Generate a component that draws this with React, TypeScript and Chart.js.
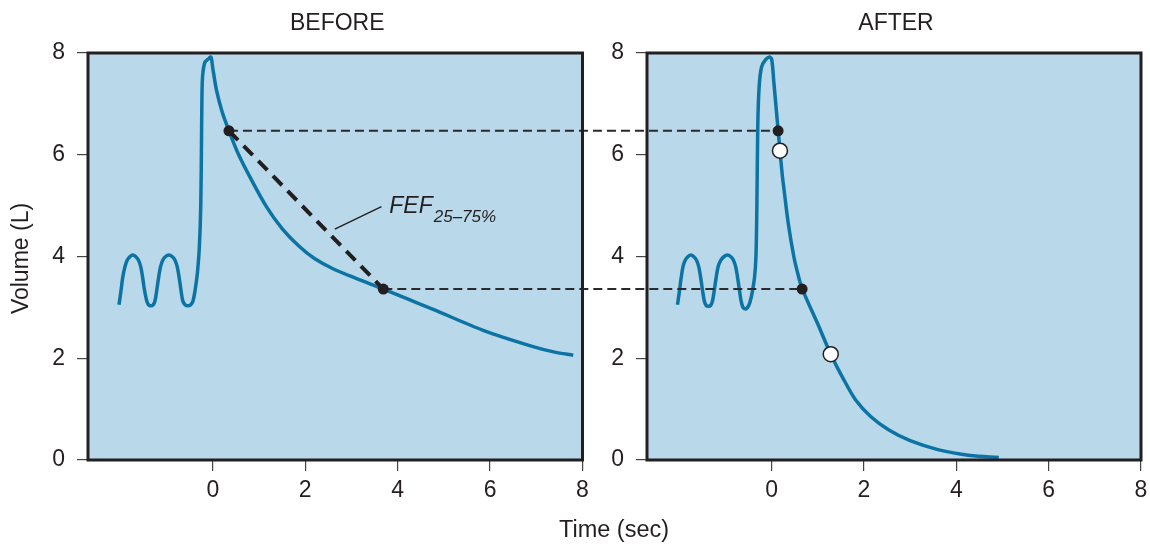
import React, { useEffect, useRef } from "react";
import { Chart, registerables } from "chart.js";
Chart.register(...registerables);

const FONT = '"Liberation Sans", Arial, Helvetica, sans-serif';
const INK = "#231f20";
const CURVE = "#0b74a5";
const PANEL = "#b9d8e9";

const xTicks = [0, 2, 4, 6, 8];
const yTicks = [0, 2, 4, 6, 8];
const xMin = -2.7;
const xMax = 8;
const yMin = 0;
const yMax = 8;

const panelTitles = ["BEFORE", "AFTER"];
const yTitle = "Volume (L)";
const xTitle = "Time (sec)";

// BEFORE volume-time curve
const beforeT = [
  -2.03, -1.99, -1.95, -1.9, -1.85, -1.79, -1.73, -1.67, -1.61, -1.56, -1.52, -1.48, -1.43, -1.39,
  -1.34, -1.29, -1.25, -1.21, -1.17, -1.13, -1.08, -1.02, -0.95, -0.88, -0.82, -0.77, -0.73, -0.69,
  -0.65, -0.6, -0.54, -0.48, -0.43, -0.38, -0.33, -0.29, -0.26, -0.245, -0.235, -0.22, -0.17, -0.1,
  -0.04, 0.0, 0.08, 0.2, 0.35, 0.55, 0.8, 1.16, 1.5, 1.88, 2.2, 2.6, 3.1, 3.69, 4.2, 4.77, 5.85, 6.93,
  7.4, 7.8,
];
const beforeV = [
  3.05, 3.3, 3.58, 3.8, 3.93, 4.0, 4.03, 4.0, 3.93, 3.8, 3.6, 3.35, 3.13, 3.05,
  3.03, 3.05, 3.13, 3.35, 3.6, 3.8, 3.93, 4.0, 4.03, 4.0, 3.93, 3.8, 3.6, 3.35,
  3.13, 3.05, 3.03, 3.05, 3.12, 3.35, 3.7, 4.2, 5.0, 6.2, 7.1, 7.55, 7.82, 7.88,
  7.92, 7.7, 7.27, 6.85, 6.47, 6.02, 5.57, 4.98, 4.55, 4.19, 3.96, 3.76, 3.57, 3.36, 3.17, 2.96, 2.55, 2.23,
  2.12, 2.06,
];

// AFTER volume-time curve
const afterT = [
  -2.04, -2.0, -1.96, -1.92, -1.87, -1.81, -1.75, -1.69, -1.63, -1.58, -1.54, -1.5, -1.46, -1.42,
  -1.37, -1.32, -1.28, -1.24, -1.2, -1.16, -1.1, -1.03, -0.96, -0.89, -0.83, -0.78, -0.74, -0.7,
  -0.66, -0.62, -0.57, -0.52, -0.47, -0.42, -0.37, -0.34, -0.32, -0.3, -0.27, -0.22, -0.14, -0.05,
  0.0, 0.05, 0.14, 0.18, 0.23, 0.27, 0.36, 0.48, 0.57, 0.66, 1.02, 1.28, 1.55, 1.82, 2.15, 2.54, 3.0,
  3.62, 4.3, 4.92,
];
const afterV = [
  3.05, 3.3, 3.58, 3.8, 3.93, 4.0, 4.03, 4.0, 3.93, 3.8, 3.6, 3.35, 3.13, 3.04,
  3.02, 3.04, 3.13, 3.35, 3.6, 3.8, 3.93, 4.0, 4.03, 4.0, 3.93, 3.8, 3.6, 3.35,
  3.12, 3.0, 2.97, 3.0, 3.1, 3.3, 3.6, 4.0, 5.0, 6.6, 7.35, 7.72, 7.86, 7.92,
  7.88, 7.4, 6.48, 6.08, 5.6, 5.3, 4.65, 4.0, 3.65, 3.37, 2.63, 2.08, 1.6, 1.18, 0.85, 0.59, 0.38,
  0.2, 0.09, 0.05,
];

// FEF 25-75% marker points
const beforeFefT = [0.35, 3.69];
const beforeFefV = [6.47, 3.36];
const afterFefT = [0.14, 0.66];
const afterFefV = [6.47, 3.36];
const afterOpenT = [0.18, 1.28];
const afterOpenV = [6.08, 2.08];

// annotation anchor (data coordinates)
const fefLeaderT = [2.64, 3.65];
const fefLeaderV = [4.54, 4.98];
const fefLabelT = 3.82;
const fefLabelV = 4.85;
const fefMain = "FEF";
const fefSub = "25\u201375%";

const linkPhase: number[] = [0, 0];

const LEFT_W = 605;
const RIGHT_W = 545;
const H = 544;

function pts(t: number[], v: number[]) {
  return t.map((x, i) => ({ x, y: v[i] }));
}

function build(canvas: HTMLCanvasElement, isBefore: boolean) {
  const W = canvas.width;
  const datasets: any[] = [
    {
      label: "curve",
      data: pts(isBefore ? beforeT : afterT, isBefore ? beforeV : afterV),
      showLine: true,
      borderColor: CURVE,
      borderWidth: 3.5,
      pointRadius: 0,
      tension: 0.3,
      order: 5,
      borderJoinStyle: "round",
    },
  ];
  if (isBefore) {
    datasets.push({
      label: "fef",
      data: pts(beforeFefT, beforeFefV),
      showLine: true,
      borderColor: INK,
      borderWidth: 4,
      borderDash: [13, 8],
      pointRadius: 0,
      order: 4,
    });
  }
  datasets.push({
    label: "marks",
    data: pts(isBefore ? beforeFefT : afterFefT, isBefore ? beforeFefV : afterFefV),
    showLine: false,
    pointRadius: 5.5,
    pointBackgroundColor: INK,
    pointBorderColor: INK,
    pointBorderWidth: 0,
    order: 1,
  });
  if (!isBefore) {
    datasets.push({
      label: "open",
      data: pts(afterOpenT, afterOpenV),
      showLine: false,
      pointRadius: 7.5,
      pointBackgroundColor: "#ffffff",
      pointBorderColor: INK,
      pointBorderWidth: 1.5,
      order: 0,
    });
  }

  const plugin = {
    id: "panel" + (isBefore ? "L" : "R"),
    beforeDraw(chart: any) {
      const { ctx, chartArea: a } = chart;
      ctx.save();
      ctx.fillStyle = PANEL;
      ctx.fillRect(a.left, a.top, a.right - a.left, a.bottom - a.top);
      ctx.restore();
    },
    afterDatasetDraw(chart: any, args: any) {
      if (chart.data.datasets[args.index].label !== "curve") return;
      const { ctx } = chart;
      const xs = chart.scales.x;
      const ys = chart.scales.y;
      ctx.save();
      ctx.strokeStyle = "#2a2a2a";
      ctx.lineWidth = 2;
      ctx.setLineDash([9, 5]);
      for (let i = 0; i < 2; i++) {
        if (isBefore) {
          const p = xs.getPixelForValue(beforeFefT[i]);
          const y = ys.getPixelForValue(beforeFefV[i]);
          linkPhase[i] = W - p;
          ctx.lineDashOffset = 0;
          ctx.beginPath();
          ctx.moveTo(p, y);
          ctx.lineTo(W, y);
          ctx.stroke();
        } else {
          const q = xs.getPixelForValue(afterFefT[i]);
          const y = ys.getPixelForValue(afterFefV[i]);
          ctx.lineDashOffset = linkPhase[i];
          ctx.beginPath();
          ctx.moveTo(0, y);
          ctx.lineTo(q, y);
          ctx.stroke();
        }
      }
      ctx.restore();
    },
    afterDraw(chart: any) {
      const { ctx, chartArea: a } = chart;
      const xs = chart.scales.x;
      const ys = chart.scales.y;
      ctx.save();
      ctx.strokeStyle = INK;
      ctx.lineWidth = 3;
      ctx.strokeRect(a.left, a.top, a.right - a.left, a.bottom - a.top);

      ctx.fillStyle = INK;
      ctx.font = `23px ${FONT}`;
      ctx.textAlign = "center";
      ctx.textBaseline = "alphabetic";
      ctx.fillText(panelTitles[isBefore ? 0 : 1], (a.left + a.right) / 2 + 2, 30);

      if (isBefore) {
        ctx.save();
        ctx.translate(22, (a.top + a.bottom) / 2 + 2);
        ctx.rotate(-Math.PI / 2);
        ctx.textBaseline = "middle";
        ctx.fillText(yTitle, 0, 0);
        ctx.restore();

        // leader line
        ctx.lineWidth = 1.4;
        ctx.setLineDash([]);
        ctx.beginPath();
        ctx.moveTo(xs.getPixelForValue(fefLeaderT[0]), ys.getPixelForValue(fefLeaderV[0]));
        ctx.lineTo(xs.getPixelForValue(fefLeaderT[1]), ys.getPixelForValue(fefLeaderV[1]));
        ctx.stroke();

        const lx = xs.getPixelForValue(fefLabelT);
        const ly = ys.getPixelForValue(fefLabelV);
        ctx.textAlign = "left";
        ctx.font = `italic 23px ${FONT}`;
        ctx.fillText(fefMain, lx, ly);
        const w = ctx.measureText(fefMain).width;
        ctx.font = `italic 17px ${FONT}`;
        ctx.fillText(fefSub, lx + w + 1, ly + 8.5);
      }
      ctx.restore();
    },
  };

  const tickFont = { family: FONT, size: 23 };
  return new Chart(canvas, {
    type: "scatter",
    data: { datasets },
    options: {
      responsive: false,
      animation: false,
      events: [],
      layout: {
        padding: { left: 0, right: isBefore ? W - 582.5 : W - 1142.6 + LEFT_W, top: 53, bottom: 0 },
      },
      plugins: { legend: { display: false }, tooltip: { enabled: false }, title: { display: false } },
      scales: {
        x: {
          type: "linear",
          min: xMin,
          max: xMax,
          afterBuildTicks: (s: any) => {
            s.ticks = xTicks.map((value) => ({ value }));
          },
          afterFit: (s: any) => {
            s.height = H - 460;
            s.paddingLeft = 0;
            s.paddingRight = 0;
          },
          grid: { drawOnChartArea: false, drawTicks: true, tickLength: 11, color: "#444", lineWidth: 1.2 },
          border: { display: false },
          ticks: { font: tickFont, color: INK, padding: 6, autoSkip: false, maxRotation: 0 },
        },
        y: {
          type: "linear",
          min: yMin,
          max: yMax,
          afterBuildTicks: (s: any) => {
            s.ticks = yTicks.map((value) => ({ value }));
          },
          afterFit: (s: any) => {
            s.width = isBefore ? 88 : 42;
            s.paddingTop = 0;
            s.paddingBottom = 0;
          },
          grid: { drawOnChartArea: false, drawTicks: true, tickLength: 11, color: "#444", lineWidth: 1.2 },
          border: { display: false },
          ticks: { font: tickFont, color: INK, padding: 12, autoSkip: false },
        },
      },
    } as any,
    plugins: [plugin],
  });
}

export default function App() {
  const leftRef = useRef<HTMLCanvasElement>(null);
  const rightRef = useRef<HTMLCanvasElement>(null);
  useEffect(() => {
    const l = build(leftRef.current!, true);
    const r = build(rightRef.current!, false);
    return () => {
      l.destroy();
      r.destroy();
    };
  }, []);
  return (
    <div style={{ position: "absolute", left: 0, top: 0, width: 1150, height: H, background: "#fff" }}>
      <canvas
        ref={leftRef}
        width={LEFT_W}
        height={H}
        style={{ position: "absolute", left: 0, top: 0, width: LEFT_W, height: H, display: "block" }}
      />
      <canvas
        ref={rightRef}
        width={RIGHT_W}
        height={H}
        style={{ position: "absolute", left: LEFT_W, top: 0, width: RIGHT_W, height: H, display: "block" }}
      />
      <div
        style={{
          position: "absolute",
          left: 514,
          top: 516,
          width: 200,
          textAlign: "center",
          font: `23.5px ${FONT}`,
          lineHeight: "26px",
          color: INK,
        }}
      >
        {xTitle}
      </div>
    </div>
  );
}
